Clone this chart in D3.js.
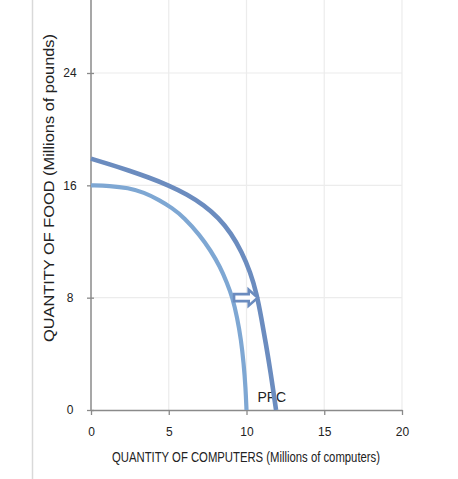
<!DOCTYPE html>
<html>
<head>
<meta charset="utf-8">
<script src="https://cdn.jsdelivr.net/npm/d3@7"></script>
<style>
  html, body { margin: 0; padding: 0; background: #fff; }
  svg { display: block; }
</style>
</head>
<body>
<div id="plot"></div>
<script>
// tick values
const xTicks = [0, 5, 10, 15, 20];
const yTicks = [0, 8, 16, 24];

// original PPC (lighter curve) and shifted PPC (darker curve), computers vs food
const ppcInner = [[0, 16], [1.2, 15.97], [2.4, 15.82], [3.4, 15.5], [4.4, 14.95], [5.2, 14.4], [6, 13.7], [7, 12.45], [7.7, 11.35], [8.3, 10.2], [8.75, 9.05], [9.1, 8.0], [9.4, 6.6], [9.65, 5.0], [9.82, 3.3], [9.94, 1.6], [10, 0]];
const ppcOuter = [[0, 17.9], [1.2, 17.5], [2.4, 17.07], [3.7, 16.57], [5, 16.0], [6.2, 15.35], [7.25, 14.6], [8.2, 13.7], [9.0, 12.6], [9.7, 11.25], [10.25, 9.8], [10.65, 8.3], [10.95, 6.6], [11.25, 4.7], [11.55, 2.7], [11.9, 0]];

// shift arrow and label
const arrowFrom = [9.2, 8];
const arrowTo = [10.72, 8];
const ppcLabel = { x: 10.7, y: 0.6, text: 'PPC' };

const W = 458, H = 479;
const narrow = '"Liberation Sans Narrow", "Arial Narrow", "Liberation Sans", Arial, sans-serif';
const sans = '"Liberation Sans", Arial, Helvetica, sans-serif';

const svg = d3.select('#plot').append('svg').attr('width', W).attr('height', H);

const x = d3.scaleLinear().domain([0, 20]).range([91, 402]);
const y = d3.scaleLinear().domain([0, 24]).range([410, 73]);

// frame line on the left
svg.append('line')
  .attr('x1', 32.5).attr('x2', 32.5).attr('y1', 0).attr('y2', H)
  .attr('stroke', '#d9d9d9').attr('stroke-width', 1.5);

// grid
const grid = svg.append('g').attr('class', 'grid');
grid.selectAll('line.gx')
  .data(xTicks.filter((d) => d > 0))
  .enter().append('line')
  .attr('class', 'gx')
  .attr('x1', (d) => x(d)).attr('x2', (d) => x(d))
  .attr('y1', 0).attr('y2', y(0))
  .attr('stroke', '#ececec').attr('stroke-width', 1.2);
grid.selectAll('line.gy')
  .data(yTicks.filter((d) => d > 0))
  .enter().append('line')
  .attr('class', 'gy')
  .attr('x1', x(0)).attr('x2', x(20))
  .attr('y1', (d) => y(d)).attr('y2', (d) => y(d))
  .attr('stroke', '#ececec').attr('stroke-width', 1.2);

// axes
const xAxis = svg.append('g')
  .attr('transform', `translate(0,${y(0)})`)
  .call(d3.axisBottom(x).tickValues(xTicks).tickSize(5).tickPadding(12).tickSizeOuter(0));
const yAxis = svg.append('g')
  .attr('transform', `translate(${x(0)},0)`)
  .call(d3.axisLeft(y).tickValues(yTicks).tickSize(4).tickPadding(14).tickSizeOuter(0));
yAxis.select('.domain').attr('d', `M0,0V${y(0)}`);

[xAxis, yAxis].forEach((a) => {
  a.select('.domain').attr('stroke', '#8a8a8a').attr('stroke-width', 1.5);
  a.selectAll('.tick line').attr('stroke', '#8a8a8a').attr('stroke-width', 1.3);
  a.selectAll('.tick text')
    .attr('fill', '#222')
    .style('font-family', narrow)
    .style('font-size', '12px');
});
yAxis.selectAll('.tick text').attr('text-anchor', 'middle').attr('x', -21);
// y tick marks cross the axis slightly
yAxis.selectAll('.tick line').attr('x1', 3);

// curves (smoothed through the read points)
const line = d3.line()
  .x((d) => x(d[0]))
  .y((d) => y(d[1]))
  .curve(d3.curveBasis);

svg.append('path')
  .datum(ppcInner)
  .attr('d', line)
  .attr('fill', 'none')
  .attr('stroke', '#7ea7d3')
  .attr('stroke-width', 4.2)
  .attr('stroke-linecap', 'butt');

// label sits under the shifted curve
svg.append('text')
  .attr('x', x(ppcLabel.x))
  .attr('y', y(ppcLabel.y))
  .style('font-family', narrow)
  .style('font-size', '14px')
  .attr('fill', '#222')
  .text(ppcLabel.text);

svg.append('path')
  .datum(ppcOuter)
  .attr('d', line)
  .attr('fill', 'none')
  .attr('stroke', '#6b8cbf')
  .attr('stroke-width', 4.6)
  .attr('stroke-linecap', 'butt');

// block arrow (outlined)
const ax0 = x(arrowFrom[0]), ax1 = x(arrowTo[0]), ay = y(arrowFrom[1]);
const headLen = 9, shaftH = 3.5, headH = 8;
const arrowPts = [
  [ax0, ay - shaftH], [ax1 - headLen, ay - shaftH], [ax1 - headLen, ay - headH],
  [ax1, ay], [ax1 - headLen, ay + headH], [ax1 - headLen, ay + shaftH], [ax0, ay + shaftH]
];
svg.append('path')
  .attr('d', d3.line()(arrowPts) + 'Z')
  .attr('fill', '#fff')
  .attr('stroke', '#6b8cbf')
  .attr('stroke-width', 2.6)
  .attr('stroke-linejoin', 'miter');

// axis titles
svg.append('text')
  .attr('transform', `translate(54,${188}) rotate(-90)`)
  .attr('text-anchor', 'middle')
  .attr('textLength', 308)
  .attr('lengthAdjust', 'spacingAndGlyphs')
  .style('font-family', sans)
  .style('font-size', '14px')
  .attr('fill', '#222')
  .text('QUANTITY OF FOOD (Millions of pounds)');

svg.append('text')
  .attr('x', 246)
  .attr('y', 462)
  .attr('text-anchor', 'middle')
  .attr('textLength', 268)
  .attr('lengthAdjust', 'spacingAndGlyphs')
  .style('font-family', sans)
  .style('font-size', '14px')
  .attr('fill', '#222')
  .text('QUANTITY OF COMPUTERS (Millions of computers)');
</script>
</body>
</html>
